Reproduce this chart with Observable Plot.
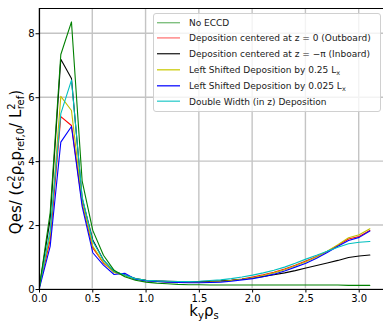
<!DOCTYPE html>
<html>
<head>
<meta charset="utf-8">
<script src="https://cdn.jsdelivr.net/npm/d3@7"></script>
<script src="https://cdn.jsdelivr.net/npm/@observablehq/plot@0.6"></script>
<style>
  html, body { margin: 0; padding: 0; background: white; }
</style>
</head>
<body>
<div id="chart"></div>
<script>
// k_y rho_s values
const ky = [0.0,0.1,0.2,0.3,0.4,0.5,0.6,0.7,0.8,0.9,1.0,1.1,1.2,1.3,1.4,1.5,1.6,1.7,1.8,1.9,2.0,2.1,2.2,2.3,2.4,2.5,2.6,2.7,2.8,2.9,3.0,3.1];

const seriesNames = [
  "No ECCD",
  "Deposition centered at z = 0 (Outboard)",
  "Deposition centered at z = −π (Inboard)",
  "Left Shifted Deposition by 0.25 Lx",
  "Left Shifted Deposition by 0.025 Lx",
  "Double Width (in z) Deposition"
];

const noEccd   = [0.1,2.4,7.35,8.37,3.4,1.85,1.07,0.6,0.4,0.29,0.23,0.2,0.18,0.16,0.15,0.15,0.14,0.14,0.14,0.14,0.14,0.14,0.14,0.14,0.14,0.14,0.14,0.14,0.14,0.13,0.13,0.13];
const outboard = [0.1,1.55,5.41,5.13,2.7,1.3,0.83,0.55,0.45,0.33,0.28,0.26,0.24,0.23,0.23,0.23,0.24,0.26,0.29,0.33,0.39,0.46,0.54,0.64,0.76,0.89,1.03,1.19,1.38,1.58,1.66,1.85];
const inboard  = [0.1,2.2,7.2,6.6,2.85,1.55,0.92,0.56,0.45,0.34,0.29,0.27,0.26,0.25,0.25,0.25,0.26,0.27,0.29,0.32,0.36,0.41,0.46,0.52,0.59,0.67,0.75,0.83,0.91,1.0,1.05,1.08];
const shift025 = [0.1,1.7,6.04,5.6,2.75,1.35,0.85,0.53,0.43,0.33,0.28,0.26,0.24,0.23,0.22,0.22,0.23,0.25,0.28,0.32,0.37,0.44,0.52,0.62,0.74,0.87,1.02,1.2,1.4,1.62,1.71,1.9];
const shift0025= [0.05,1.35,4.61,5.1,2.6,1.15,0.76,0.47,0.51,0.32,0.27,0.25,0.23,0.22,0.21,0.21,0.22,0.23,0.26,0.3,0.34,0.4,0.48,0.58,0.7,0.82,0.98,1.16,1.35,1.53,1.63,1.83];
const doubleW  = [0.1,1.85,5.5,6.55,2.9,1.5,0.92,0.57,0.45,0.34,0.29,0.27,0.26,0.25,0.25,0.26,0.28,0.3,0.34,0.39,0.45,0.52,0.6,0.7,0.82,0.95,1.07,1.2,1.32,1.43,1.48,1.5];

const seriesValues = [noEccd, outboard, inboard, shift025, shift0025, doubleW];
const lineColors   = ["#008000", "#ff0000", "#000000", "#bfbf00", "#0000ff", "#00bfbf"];
const legendColors = ["#80c080", "#ff8080", "#333333", "#d0d020", "#2020ff", "#40d0d0"];

const xTicks = [0.0,0.5,1.0,1.5,2.0,2.5,3.0];
const yTicks = [0,2,4,6,8];

// draw order: green last (on top)
const drawOrder = [1,2,3,4,5,0];
const rows = [];
for (const si of drawOrder) {
  ky.forEach((k, i) => rows.push({k, q: seriesValues[si][i], s: seriesNames[si]}));
}

const W = 383, H = 321;
const mL = 39, mR = 0, mT = 8, mB = 32;
const xMax = 3.228, yMax = 8.79;

const plot = Plot.plot({
  width: W, height: H,
  marginLeft: mL, marginRight: mR, marginTop: mT, marginBottom: mB,
  style: {fontFamily: "DejaVu Sans", fontSize: "10px", background: "white", color: "#000"},
  x: {domain: [0, xMax]},
  y: {domain: [0, yMax]},
  color: {domain: seriesNames, range: lineColors},
  marks: [
    Plot.line(rows, {x: "k", y: "q", z: "s", stroke: "s", strokeWidth: 1.1}),
    Plot.axisX({ticks: xTicks, tickFormat: d3.format(".1f"), tickSize: 3.5, tickPadding: 1.5, label: null, fontSize: 10, stroke: "#000"}),
    Plot.axisY({ticks: yTicks, tickFormat: d3.format("d"), tickSize: 3.5, tickPadding: 1.5, label: null, fontSize: 10, stroke: "#000"}),
    Plot.ruleX([0], {stroke: "#000", strokeWidth: 1.2}),
    Plot.ruleY([0], {stroke: "#000", strokeWidth: 1.2}),
    Plot.ruleY([yMax], {stroke: "#000", strokeWidth: 1.2})
  ]
});
document.getElementById("chart").appendChild(plot);

const svg = d3.select(plot);
const sx = plot.scale("x"), sy = plot.scale("y");

// grid lines from the plot's own scales, placed beneath the data lines
const grid = svg.insert("g", ":first-child").attr("class", "grid");
svg.select("g.grid").lower();
const bg = svg.select("rect");
xTicks.forEach(v => {
  const x = sx.apply(v);
  grid.append("line").attr("x1", x).attr("x2", x).attr("y1", mT).attr("y2", H - mB)
    .attr("stroke", "#c4c4c4").attr("stroke-width", 1.4);
});
yTicks.forEach(v => {
  const y = sy.apply(v);
  grid.append("line").attr("x1", mL).attr("x2", W).attr("y1", y).attr("y2", y)
    .attr("stroke", "#c4c4c4").attr("stroke-width", 1.4);
});

// x label: k_y rho_s
const xl = svg.append("text")
  .attr("x", 204).attr("y", 316)
  .attr("text-anchor", "middle")
  .attr("font-family", "DejaVu Sans").attr("font-size", 15).attr("fill", "#000");
xl.append("tspan").text("k");
xl.append("tspan").attr("font-size", 10).attr("dy", 3).text("y");
xl.append("tspan").attr("dy", -3).text("ρ");
xl.append("tspan").attr("font-size", 10).attr("dy", 3).text("s");

// y label
const yl = svg.append("text")
  .attr("transform", "translate(21,162) rotate(-90)")
  .attr("text-anchor", "middle")
  .attr("font-family", "DejaVu Sans").attr("font-size", 15).attr("fill", "#000");
yl.append("tspan").text("Qes/ (c");
yl.append("tspan").attr("font-size", 10).attr("dy", 3).text("s");
yl.append("tspan").attr("font-size", 10).attr("dy", -9).attr("dx", -5.5).text("2");
yl.append("tspan").attr("dy", 6).text("ρ");
yl.append("tspan").attr("font-size", 10).attr("dy", 3).text("s");
yl.append("tspan").attr("dy", -3).text("p");
yl.append("tspan").attr("font-size", 10).attr("dy", 3).text("ref,0");
yl.append("tspan").attr("dy", -3).text("/ L");
yl.append("tspan").attr("font-size", 10).attr("dy", -6).text("2");
yl.append("tspan").attr("font-size", 10).attr("dy", 9).attr("dx", -6).text("ref");
yl.append("tspan").attr("dy", -3).text(")");

// legend
const lg = svg.append("g");
lg.append("rect")
  .attr("x", 153.5).attr("y", 13.5).attr("width", 227).attr("height", 98)
  .attr("rx", 2.5).attr("fill", "white").attr("fill-opacity", 0.8)
  .attr("stroke", "#d0d0d0").attr("stroke-width", 1);
const rowY = [22.7, 37.9, 53.7, 69.8, 85.8, 101.2];
seriesNames.forEach((name, i) => {
  const y = rowY[i];
  lg.append("line").attr("x1", 157).attr("x2", 180).attr("y1", y).attr("y2", y)
    .attr("stroke", legendColors[i]).attr("stroke-width", 1.4);
  const t = lg.append("text").attr("x", 189).attr("y", y + 3.3)
    .attr("text-anchor", "start")
    .attr("font-family", "DejaVu Sans").attr("font-size", 9).attr("fill", "#1a1a1a");
  if (name.endsWith(" Lx")) {
    t.append("tspan").text(name.slice(0, -1));
    t.append("tspan").attr("font-size", 6.5).attr("dy", 2).text("x");
  } else {
    t.text(name);
  }
});
</script>
</body>
</html>
